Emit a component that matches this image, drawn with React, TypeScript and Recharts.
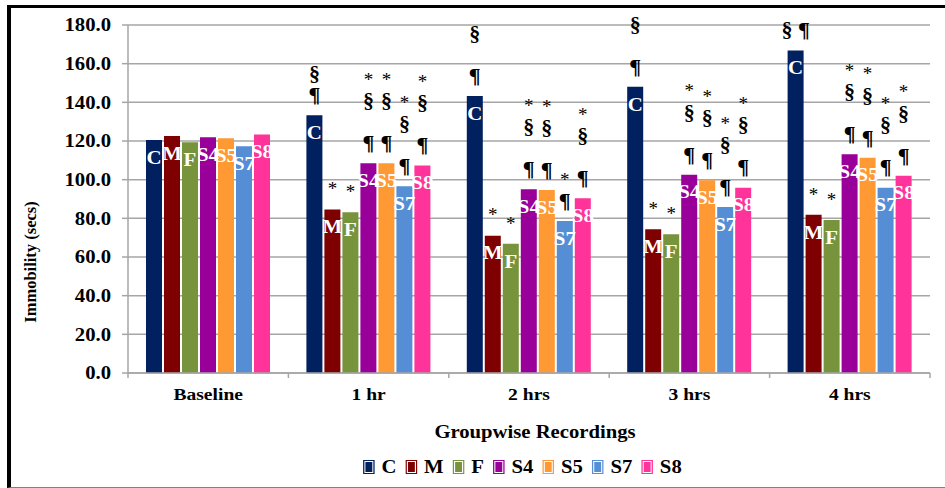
import React from 'react';
import { Bar, BarChart, CartesianGrid, Label, LabelList, XAxis, YAxis } from 'recharts';

const categories = ['Baseline', '1 hr', '2 hrs', '3 hrs', '4 hrs'];

const cValues = [120.5, 133.3, 143.3, 148.0, 166.8];
const mValues = [122.6, 84.6, 71.0, 74.4, 81.8];
const fValues = [119.4, 83.2, 66.8, 71.8, 79.1];
const s4Values = [122.0, 108.5, 95.1, 102.5, 113.2];
const s5Values = [121.4, 108.5, 94.6, 99.7, 111.3];
const s7Values = [117.3, 96.6, 78.6, 85.8, 95.8];
const s8Values = [123.4, 107.3, 90.4, 95.8, 102.0];

// significance marks written above each bar, top line first
const cMarks = ['', '§\n¶', '§\n\n¶', '§\n\n¶', '§ ¶'];
const mMarks = ['', '*', '*', '*', '*'];
const fMarks = ['', '*', '*', '*', '*'];
const s4Marks = ['', '*\n§\n\n¶', '*\n§\n\n¶', '*\n§\n\n¶', '*\n§\n\n¶'];
const s5Marks = ['', '*\n§\n\n¶', '*\n§\n\n¶', '*\n§\n\n¶', '*\n§\n\n¶'];
const s7Marks = ['', '*\n§\n\n¶', '*\n¶', '*\n§\n\n¶', '*\n§\n\n¶'];
const s8Marks = ['', '*\n§\n\n¶', '*\n§\n\n¶', '*\n§\n\n¶', '*\n§\n\n¶'];

const yTicks = [0, 20, 40, 60, 80, 100, 120, 140, 160, 180];

const series = [
  { key: 'C', values: cValues, marks: cMarks, color: '#002060' },
  { key: 'M', values: mValues, marks: mMarks, color: '#7f0000' },
  { key: 'F', values: fValues, marks: fMarks, color: '#77933c' },
  { key: 'S4', values: s4Values, marks: s4Marks, color: '#990099' },
  { key: 'S5', values: s5Values, marks: s5Marks, color: '#ff9933' },
  { key: 'S7', values: s7Values, marks: s7Marks, color: '#558ed5' },
  { key: 'S8', values: s8Values, marks: s8Marks, color: '#ff3399' },
];

const data = categories.map((name, i) => {
  const row: Record<string, string | number> = { name };
  series.forEach((s) => {
    row[s.key] = s.values[i];
    row[`${s.key}_mark`] = s.marks[i];
  });
  return row;
});

const FONT = '"Liberation Serif", "Times New Roman", serif';
const GRID = '#a6a6a6';
const STRETCH = 1.15;

function YTick(props: any) {
  const { x, y, payload } = props;
  return (
    <g transform={`translate(${x},${y}) scale(${STRETCH},1)`}>
      <text x={0} y={0} dy="0.36em" textAnchor="end" fontFamily={FONT} fontWeight="bold" fontSize={18} fill="#000">
        {Number(payload.value).toFixed(1)}
      </text>
    </g>
  );
}

function XTick(props: any) {
  const { x, y, payload, index } = props;
  const half = payload?.offset ?? 80;
  const axisY = y - 7;
  return (
    <g>
      <line x1={x - half} x2={x - half} y1={axisY} y2={axisY + 5} stroke={GRID} strokeWidth={1.5} />
      {index === categories.length - 1 && (
        <line x1={x + half} x2={x + half} y1={axisY} y2={axisY + 5} stroke={GRID} strokeWidth={1.5} />
      )}
      <g transform={`translate(${x},${y + 20}) scale(${STRETCH},1)`}>
        <text x={0} y={0} textAnchor="middle" fontFamily={FONT} fontWeight="bold" fontSize={17} fill="#000">
          {payload.value}
        </text>
      </g>
    </g>
  );
}

function makeTag(text: string) {
  return (props: any) => {
    const { x, y, width } = props;
    const cx = Number(x) + Number(width) / 2;
    return (
      <g transform={`translate(${cx},${Number(y) + 17}) scale(1.1,1)`}>
        <text x={0} y={0} dy="0.35em" textAnchor="middle" fontFamily={FONT} fontWeight="bold" fontSize={19} fill="#fff">
          {text}
        </text>
      </g>
    );
  };
}

function MarkText(props: any) {
  const { x, y, width, value } = props;
  if (!value) return null;
  const lines = String(value).split('\n');
  const cx = Number(x) + Number(width) / 2;
  const top = Number(y);
  return (
    <g>
      {lines.map((line, i) => {
        const fromBottom = lines.length - 1 - i;
        const ly = top - 21 - fromBottom * 21;
        const star = line.trim() === '*';
        return (
          <text
            key={i}
            x={cx}
            y={ly}
            dy="0.35em"
            textAnchor="middle"
            fontFamily={FONT}
            fontWeight={star ? 'normal' : 'bold'}
            fontSize={star ? 19 : 22}
            fill="#000"
          >
            {line}
          </text>
        );
      })}
    </g>
  );
}

function YTitle() {
  return (
    <text
      transform="translate(30,262) rotate(-90)"
      textAnchor="middle"
      dy="0.35em"
      fontFamily={FONT}
      fontWeight="bold"
      fontSize={16.5}
      fill="#000"
    >
      Immobility (secs)
    </text>
  );
}

function XTitle() {
  return (
    <g transform={`translate(535,438) scale(${STRETCH},1)`}>
      <text x={0} y={0} textAnchor="middle" fontFamily={FONT} fontWeight="bold" fontSize={18} fill="#000">
        Groupwise Recordings
      </text>
    </g>
  );
}

export default function App() {
  return (
    <div style={{ position: 'absolute', left: 0, top: 0, width: 945, height: 488, background: '#fff' }}>
      <div
        style={{
          position: 'absolute',
          left: 7,
          top: 5,
          width: 938,
          height: 483,
          boxSizing: 'border-box',
          borderTop: '3px solid #000',
          borderLeft: '4px solid #000',
          borderBottom: '1px solid #808080',
        }}
      />
      <div style={{ position: 'absolute', left: 0, top: 0 }}>
        <BarChart
          width={945}
          height={488}
          data={data}
          margin={{ top: 25, right: 15, bottom: 75, left: 0 }}
          barCategoryGap={18}
          barGap={2}
        >
          <CartesianGrid vertical={false} stroke={GRID} strokeWidth={1.5} />
          <XAxis
            dataKey="name"
            height={40}
            tickSize={5}
            tickMargin={2}
            tickLine={false}
            axisLine={{ stroke: GRID, strokeWidth: 1.5 }}
            tick={<XTick />}
            interval={0}
          >
            <Label content={<XTitle />} />
          </XAxis>
          <YAxis
            width={128}
            domain={[0, 180]}
            ticks={yTicks}
            tickSize={6}
            tickMargin={11}
            tickLine={{ stroke: GRID, strokeWidth: 1.5 }}
            axisLine={{ stroke: GRID, strokeWidth: 1.5 }}
            tick={<YTick />}
            interval={0}
          >
            <Label content={<YTitle />} />
          </YAxis>
          {series.map((s) => (
            <Bar key={s.key} dataKey={s.key} fill={s.color} isAnimationActive={false}>
              <LabelList dataKey={s.key} content={makeTag(s.key)} />
              <LabelList dataKey={`${s.key}_mark`} content={<MarkText />} />
            </Bar>
          ))}
        </BarChart>
      </div>
      <div
        style={{
          position: 'absolute',
          left: 523,
          top: 467,
          transform: `translate(-50%,-50%) scaleX(${STRETCH})`,
          display: 'flex',
          alignItems: 'center',
          whiteSpace: 'nowrap',
          fontFamily: FONT,
          fontWeight: 'bold',
          fontSize: 18,
          lineHeight: '20px',
        }}
      >
        {series.map((s, i) => (
          <span key={s.key} style={{ display: 'flex', alignItems: 'center', marginRight: i < series.length - 1 ? 9 : 0 }}>
            <span
              style={{
                display: 'inline-block',
                width: 6,
                height: 10,
                background: s.color,
                border: '1px solid #ffffff',
                outline: `1px solid ${s.color}`,
                marginRight: 7,
              }}
            />
            <span>{s.key}</span>
          </span>
        ))}
      </div>
    </div>
  );
}
